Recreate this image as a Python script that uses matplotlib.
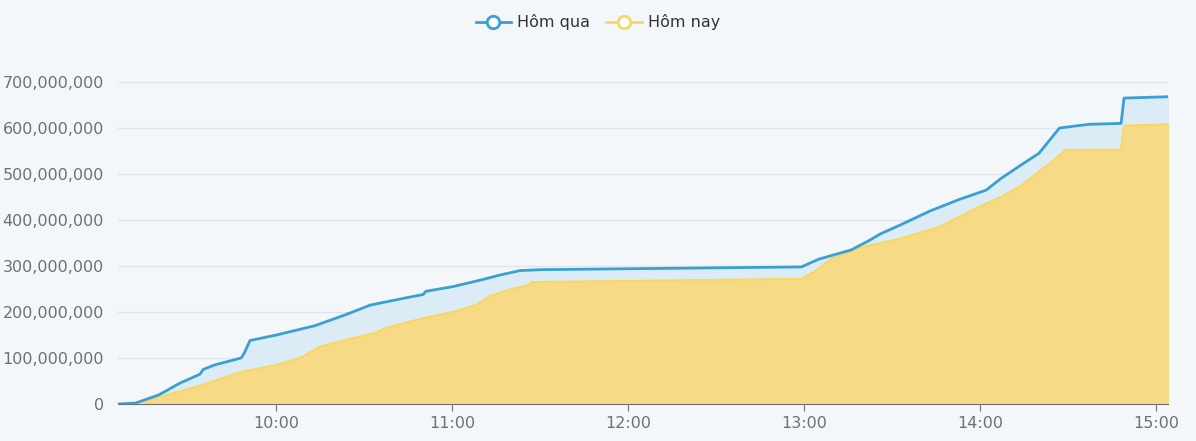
import matplotlib
matplotlib.use("Agg")
import matplotlib.pyplot as plt
from matplotlib.lines import Line2D
from matplotlib.ticker import FuncFormatter

# Hôm qua (blue)
qua_time = ["9:06", "9:12", "9:20", "9:27", "9:34", "9:35", "9:39", "9:48", "9:49", "9:51",
            "10:00", "10:13", "10:24", "10:32", "10:42", "10:50", "10:51", "11:00", "11:10",
            "11:16", "11:23", "11:30", "12:59", "13:05", "13:16", "13:22", "13:26", "13:33",
            "13:43", "13:53", "14:02", "14:07", "14:14", "14:20", "14:27", "14:37", "14:48",
            "14:49", "15:04"]
qua_val = [0, 2, 20, 45, 65, 75, 85, 100, 110, 138,
           150, 170, 195, 215, 228, 238, 245, 255, 270,
           280, 290, 292, 298, 315, 335, 355, 370, 390,
           420, 445, 465, 490, 520, 545, 600, 608, 610,
           665, 668]

# Hôm nay (yellow)
nay_time = ["9:06", "9:14", "9:20", "9:34", "9:48", "10:00", "10:08", "10:15", "10:24", "10:34",
            "10:37", "10:49", "11:00", "11:08", "11:13", "11:20", "11:26", "11:27", "12:59",
            "13:04", "13:09", "13:19", "13:33", "13:46", "14:00", "14:07", "14:14", "14:22",
            "14:27", "14:29", "14:48", "14:49", "15:04"]
nay_val = [0, 2, 15, 40, 70, 85, 100, 125, 140, 155,
           165, 185, 200, 215, 235, 250, 258, 265, 272,
           290, 315, 340, 360, 385, 430, 450, 475, 515,
           540, 552, 553, 605, 608]

tick_labels = ["10:00", "11:00", "12:00", "13:00", "14:00", "15:00"]


def to_min(s):
    h, m = s.split(":")
    return int(h) * 60 + int(m)


qx = [to_min(t) for t in qua_time]
qy = [v * 1e6 for v in qua_val]
nx = [to_min(t) for t in nay_time]
ny = [v * 1e6 for v in nay_val]

bg = "#f3f7fa"
blue = "#3a9fd3"
yellow = "#f8d762"

fig = plt.figure(figsize=(11.96, 4.41), dpi=100, facecolor=bg)
ax = fig.add_axes([118 / 1196, 37 / 441, 1050 / 1196, 322 / 441], facecolor=bg)

ax.fill_between(qx, qy, 0, color="#dcecf7", zorder=1)
ax.fill_between(nx, ny, 0, color="#f6da86", zorder=2)
ax.plot(nx, ny, color=yellow, lw=1.5, zorder=3)
ax.plot(qx, qy, color=blue, lw=2, zorder=4)

ax.set_xlim(to_min("9:06"), to_min("15:04"))
ax.set_ylim(0, 700e6)
ax.set_yticks([i * 100e6 for i in range(8)])
ax.yaxis.set_major_formatter(FuncFormatter(lambda v, p: f"{int(v):,}"))
ax.set_xticks([to_min(t) for t in tick_labels])
ax.set_xticklabels(tick_labels)
ax.grid(axis="y", color="#e0e6ec", lw=1)
ax.set_axisbelow(True)
for s in ["top", "right", "left"]:
    ax.spines[s].set_visible(False)
ax.spines["bottom"].set_color("#6e7079")
ax.tick_params(axis="y", length=0, labelsize=11.5, labelcolor="#6e7079", pad=10)
ax.tick_params(axis="x", length=5, color="#6e7079", labelsize=11.5, labelcolor="#6e7079")

handles = [
    Line2D([0], [0], color=blue, lw=2, marker="o", ms=9, markerfacecolor="white", markeredgewidth=2),
    Line2D([0], [0], color=yellow, lw=2, marker="o", ms=9, markerfacecolor="white", markeredgewidth=2),
]
fig.legend(handles, ["Hôm qua", "Hôm nay"], loc="upper center", bbox_to_anchor=(0.5, 1.0),
           ncol=2, frameon=False, fontsize=11.5, labelcolor="#333333",
           handlelength=2.2, columnspacing=1.0, handletextpad=0.4)

fig.savefig("out.png", dpi=100, facecolor=bg)
